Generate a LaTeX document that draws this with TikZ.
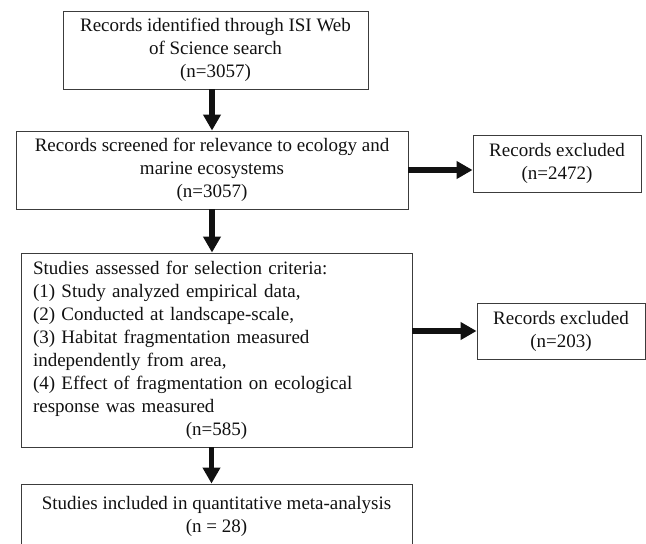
\documentclass[tikz,border=0pt]{standalone}
\usepackage{fontspec}
\setmainfont{Liberation Serif}
\usepackage{xcolor}
\usetikzlibrary{arrows.meta}
\definecolor{flowink}{HTML}{111111}
\definecolor{flowframe}{HTML}{3C3C3C}

\begin{document}
\begin{tikzpicture}[x=1pt, y=-1pt,
                    every node/.style={flowink, font=\fontsize{19}{23}\selectfont},
                    stagebox/.style={draw=flowframe, line width=0.9pt, rectangle,
                                     inner sep=0pt, align=center},
                    flowarrow/.style={flowink, line width=5.5pt,
                                      -{Triangle[length=16pt, width=17pt]}}]

  %% 畫面範圍 646 x 544
  \useasboundingbox (0,0) rectangle (646,544);

  %% 主流程的方框
  \node[stagebox, minimum width=305pt, minimum height=78pt] (ident) at (215.5,50)
    {Records identified through ISI Web\\ of Science search\\ (n=3057)};
  \node[stagebox, minimum width=392pt, minimum height=78pt] (screen) at (212,170)
    {Records screened for relevance to ecology and\\ marine ecosystems\\ (n=3057)};
  \node[stagebox, minimum width=391pt, minimum height=194pt, text width=367pt,
        align=left] (assess) at (216.5,350)
    {Studies assessed for selection criteria:\\
     (1) Study analyzed empirical data,\\
     (2) Conducted at landscape-scale,\\
     (3) Habitat fragmentation measured\\
     independently from area,\\
     (4) Effect of fragmentation on ecological\\
     response was measured\par
     {\centering (n=585)\par}};
  \node[stagebox, minimum width=391pt, minimum height=64pt] (incl) at (216.5,516)
    {Studies included in quantitative meta-analysis\\ (n = 28)};

  %% 排除的紀錄
  \node[stagebox, minimum width=168pt, minimum height=57pt] (excA) at (557,163.5)
    {Records excluded\\ (n=2472)};
  \node[stagebox, minimum width=168pt, minimum height=56pt] (excB) at (561,331)
    {Records excluded\\ (n=203)};

  %% 箭頭
  \draw[flowarrow] (ident.south -| screen.north) -- (screen.north);
  \draw[flowarrow] (screen.south) -- (screen.south |- assess.north);
  \draw[flowarrow] ([xshift=-5pt]assess.south) -- ([xshift=-5pt]incl.north);
  \draw[flowarrow] (screen.east) -- (screen.east -| excA.west);
  \draw[flowarrow] (excB.west -| assess.east) -- (excB.west);

\end{tikzpicture}
\end{document}
